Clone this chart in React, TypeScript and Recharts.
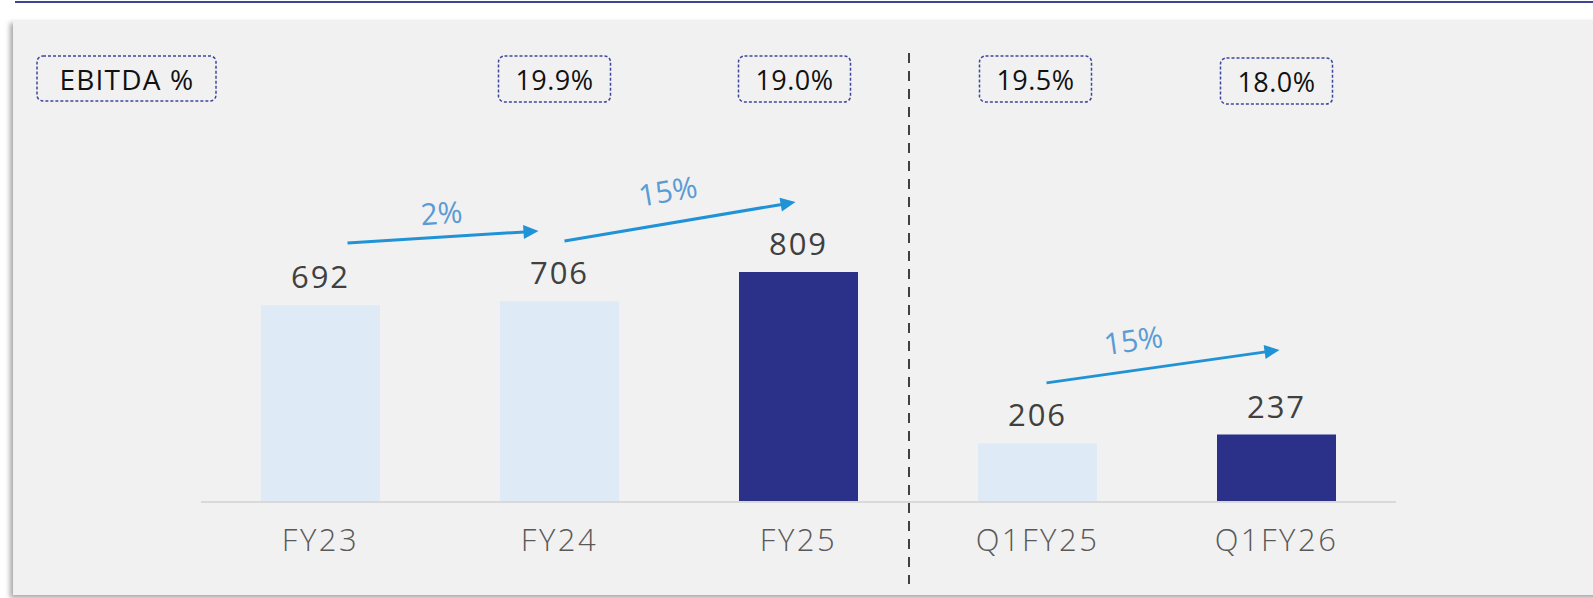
import React from 'react';
import { BarChart, Bar, XAxis, YAxis, Cell, LabelList, ReferenceLine } from 'recharts';

// EBITDA (absolute) per period
const categories = ['FY23', 'FY24', 'FY25', 'Q1FY25', 'Q1FY26'];
const ebitda = [692, 706, 809, 206, 237];
const ebitdaMargin = ['', '19.9%', '19.0%', '19.5%', '18.0%'];
const highlighted = [false, false, true, false, true];

// growth arrows
const growthFrom = ['FY23', 'FY24', 'Q1FY25'];
const growthTo = ['FY24', 'FY25', 'Q1FY26'];
const growthStartLevel = [911, 918, 419];
const growthEndLevel = [953, 1055, 535];
const growthLabels = ['2%', '15%', '15%'];

// arrow placement tweaks (px) – purely cosmetic
const arrowLayout = [
  { startInset: 27, endInset: -21, labelT: 0.5, labelGap: 24 },
  { startInset: 5, endInset: -3, labelT: 0.47, labelGap: 32 },
  { startInset: 9, endInset: 3, labelT: 0.39, labelGap: 30 },
];
const boxShift = [0, -5, -4, -2, 0];

const FONT = '"Open Sans", "DejaVu Sans", sans-serif';
const BOX_STROKE = '#3d479c';
const ARROW_COLOR = '#1f93d6';
const ARROW_LABEL = '#5b9bd5';

const chartData = categories.map((name, i) => ({ name, value: ebitda[i] }));

const GrowthArrow = (props: any) => {
  const { x1, y1, x2, y2, i } = props;
  const cfg = arrowLayout[i];
  const sx = x1 + cfg.startInset;
  const ex = x2 + cfg.endInset;
  const dx = ex - sx;
  const dy = y2 - y1;
  const len = Math.sqrt(dx * dx + dy * dy);
  const ux = dx / len;
  const uy = dy / len;
  const head = 15;
  const half = 7;
  const bx = ex - ux * head;
  const by = y2 - uy * head;
  const nx = -uy;
  const ny = ux;
  const lx = sx + dx * cfg.labelT + uy * cfg.labelGap;
  const ly = y1 + dy * cfg.labelT - ux * cfg.labelGap;
  const angle = (Math.atan2(dy, dx) * 180) / Math.PI;
  return (
    <g>
      <line x1={sx} y1={y1} x2={bx + ux} y2={by + uy} stroke={ARROW_COLOR} strokeWidth={3} />
      <polygon
        points={`${ex},${y2} ${bx + nx * half},${by + ny * half} ${bx - nx * half},${by - ny * half}`}
        fill={ARROW_COLOR}
      />
      <text
        x={lx}
        y={ly}
        dy="0.36em"
        textAnchor="middle"
        fill={ARROW_LABEL}
        fontSize={30}
        fontFamily={FONT}
        transform={`rotate(${angle} ${lx} ${ly})`}
      >
        {growthLabels[i]}
      </text>
    </g>
  );
};

const MarginTick = (props: any) => {
  const { x, y, payload } = props;
  const label = ebitdaMargin[payload.index];
  if (!label) return null;
  const cx = x + boxShift[payload.index];
  const cy = payload.index === 4 ? y + 2 : y;
  return (
    <g>
      <rect
        x={cx - 56}
        y={cy - 48}
        width={112}
        height={46}
        rx={6}
        fill="none"
        stroke={BOX_STROKE}
        strokeWidth={1.5}
        strokeDasharray="3 2"
      />
      <text
        x={cx}
        y={cy - 24}
        dy="0.36em"
        textAnchor="middle"
        fill="#111"
        fontSize={27}
        fontWeight={500}
        letterSpacing={0.5}
        fontFamily={FONT}
      >
        {label}
      </text>
    </g>
  );
};

const HeaderBox = (props: any) => {
  const { viewBox } = props;
  if (!viewBox) return null;
  const x = viewBox.x - 164;
  const y = viewBox.y + 12;
  return (
    <g>
      <rect x={x} y={y} width={179} height={45} rx={6} fill="none" stroke={BOX_STROKE} strokeWidth={1.5} strokeDasharray="3 2" />
      <text
        x={x + 90}
        y={y + 24}
        dy="0.36em"
        textAnchor="middle"
        fill="#111"
        fontSize={28}
        fontWeight={500}
        letterSpacing={1.2}
        fontFamily={FONT}
      >
        EBITDA %
      </text>
    </g>
  );
};

export default function App() {
  return (
    <div style={{ position: 'absolute', left: 0, top: 0, width: 1593, height: 598, background: '#fff', overflow: 'hidden' }}>
      <div style={{ position: 'absolute', left: 15, right: 0, top: 1, height: 2, background: '#3c4694' }} />
      <div
        style={{
          position: 'absolute',
          left: 13,
          top: 20,
          width: 1600,
          height: 575,
          background: '#f1f1f1',
          boxShadow: '-3px 3px 5px rgba(0,0,0,0.35)',
        }}
      />
      <div style={{ position: 'absolute', left: 0, top: 0 }}>
        <BarChart width={1593} height={598} data={chartData} margin={{ top: 44, right: 197, bottom: 36, left: 201 }}>
          <XAxis
            xAxisId="top"
            orientation="top"
            dataKey="name"
            height={60}
            axisLine={false}
            tickLine={false}
            tickSize={0}
            tickMargin={0}
            interval={0}
            tick={<MarginTick />}
            label={HeaderBox}
          />
          <XAxis
            xAxisId="bottom"
            dataKey="name"
            height={60}
            axisLine={{ stroke: '#d9d9d9', strokeWidth: 2 }}
            tickLine={false}
            tickSize={0}
            tickMargin={27}
            interval={0}
            tick={{ fill: '#595959', fontSize: 31, fontWeight: 300, fontFamily: FONT, letterSpacing: 2.5 }}
          />
          <YAxis hide domain={[0, 1400]} />
          <Bar xAxisId="bottom" dataKey="value" barSize={119} isAnimationActive={false}>
            {chartData.map((d, i) => (
              <Cell key={d.name} fill={highlighted[i] ? '#2b3188' : '#deeaf6'} />
            ))}
            <LabelList
              dataKey="value"
              position="top"
              offset={17}
              fill="#404040"
              fontSize={31}
              fontFamily={FONT}
              letterSpacing={2}
            />
          </Bar>
          {growthFrom.map((from, i) => (
            <ReferenceLine
              key={from}
              xAxisId="bottom"
              segment={[
                { x: from, y: growthStartLevel[i] },
                { x: growthTo[i], y: growthEndLevel[i] },
              ]}
              shape={(p: any) => <GrowthArrow {...p} i={i} />}
            />
          ))}
        </BarChart>
      </div>
      <svg style={{ position: 'absolute', left: 0, top: 0 }} width={1593} height={598} pointerEvents="none">
        <line x1={909} y1={53} x2={909} y2={584} stroke="#404040" strokeWidth={2} strokeDasharray="10 8" />
      </svg>
    </div>
  );
}
